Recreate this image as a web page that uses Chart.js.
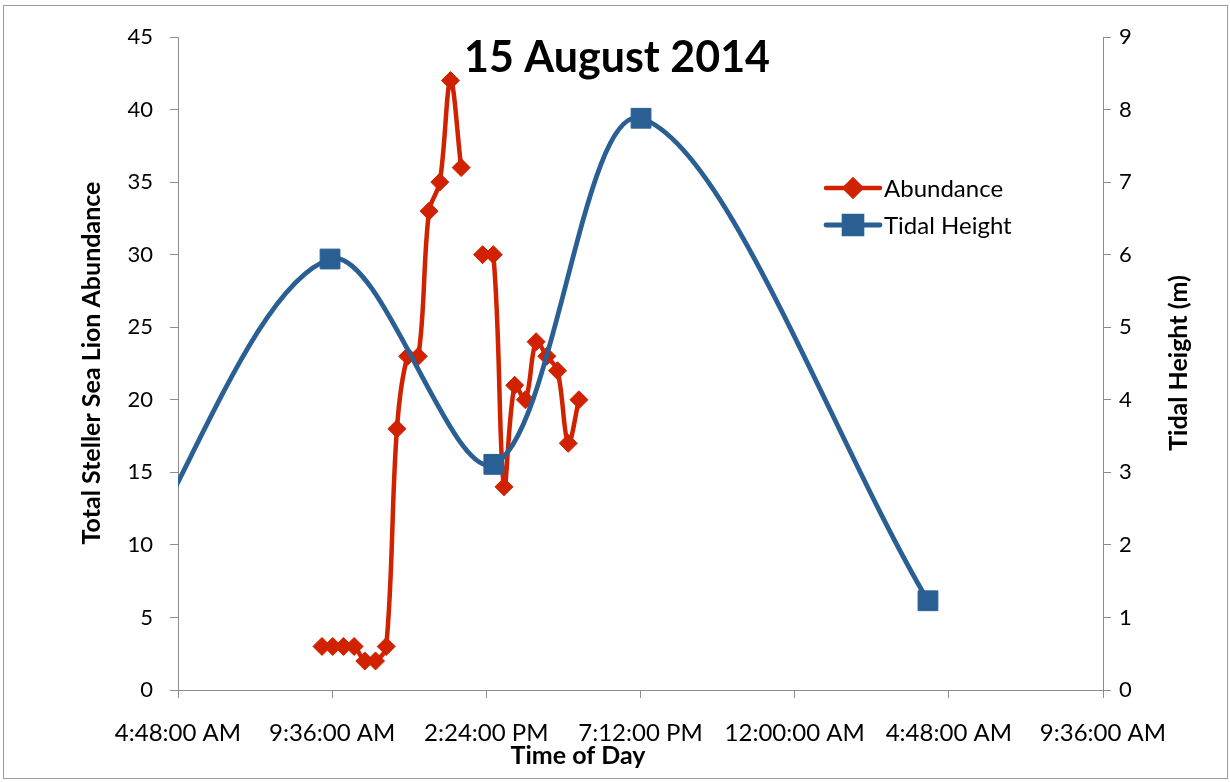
<!DOCTYPE html>
<html>
<head>
<meta charset="utf-8">
<script src="https://cdn.jsdelivr.net/npm/chart.js@4.4.0/dist/chart.umd.min.js"></script>
<style>
  html, body { margin: 0; padding: 0; background: #ffffff; }
  #wrap { width: 1230px; height: 782px; position: relative; }
</style>
</head>
<body>
<div id="wrap"><canvas id="c" width="1230" height="782"></canvas></div>
<script>
// Sea lion counts: survey times in minutes after midnight (15 Aug 2014);
// the 13:57 survey has no count, so the line breaks there
const countTimes = [557, 577, 597, 617, 637, 657, 677, 697, 717, 737, 757, 777, 797, 817,
                    837, 857, 877, 897, 917, 937, 957, 977, 997, 1017, 1037];
const counts     = [3, 3, 3, 3, 2, 2, 3, 18, 23, 23, 33, 35, 42, 36,
                    null, 30, 30, 14, 21, 20, 24, 23, 22, 17, 20];

// Tide turning points: minutes after midnight (values > 1440 fall on 16 Aug), height in metres
const tideTimes   = [180, 572, 878, 1153, 1689];
const tideHeights = [1.4, 5.94, 3.11, 7.88, 1.23];

// Axis ticks
const timeTicks      = [288, 576, 864, 1152, 1440, 1728, 2016];
const abundanceTicks = [0, 5, 10, 15, 20, 25, 30, 35, 40, 45];
const tideTicks      = [0, 1, 2, 3, 4, 5, 6, 7, 8, 9];

const RED  = '#D12200';
const BLUE = '#2A5F94';
const AXIS = '#8C8C8C';
const FONT = 'Lato, "Open Sans", "DejaVu Sans", sans-serif';

function clockLabel(min) {
  const m = ((min % 1440) + 1440) % 1440;
  const h = Math.floor(m / 60);
  const mm = m % 60;
  let h12 = h % 12;
  if (h12 === 0) h12 = 12;
  return h12 + ':' + String(mm).padStart(2, '0') + ':00 ' + (h < 12 ? 'AM' : 'PM');
}

const toXY = (xs, ys) => xs.map((x, i) => ({ x: x, y: ys[i] }));

// Frame, chart title, axis titles and the legend box
const decorations = {
  id: 'decorations',
  beforeDraw(chart) {
    const ctx = chart.ctx;
    ctx.save();
    ctx.fillStyle = '#ffffff';
    ctx.fillRect(0, 0, chart.width, chart.height);
    ctx.strokeStyle = '#9A9A9A';
    ctx.lineWidth = 1;
    ctx.strokeRect(3.5, 5.5, 1224, 773);
    ctx.restore();
  },
  afterDraw(chart) {
    const ctx = chart.ctx;
    ctx.save();
    ctx.fillStyle = '#000000';
    ctx.textAlign = 'center';
    ctx.textBaseline = 'middle';

    ctx.font = 'bold 43px ' + FONT;
    ctx.fillText('15 August 2014', 617, 58);

    ctx.font = 'bold 25px ' + FONT;
    ctx.fillText('Time of Day', 578, 756);

    ctx.save();
    ctx.translate(92, 363);
    ctx.rotate(-Math.PI / 2);
    ctx.fillText('Total Steller Sea Lion Abundance', 0, 0);
    ctx.restore();

    ctx.save();
    ctx.translate(1179, 363);
    ctx.rotate(-Math.PI / 2);
    ctx.fillText('Tidal Height (m)', 0, 0);
    ctx.restore();

    // legend
    const items = [
      { ds: chart.data.datasets[0], y: 188 },
      { ds: chart.data.datasets[1], y: 225 }
    ];
    items.forEach(it => {
      ctx.strokeStyle = it.ds.borderColor;
      ctx.lineWidth = it.ds.borderWidth;
      ctx.lineCap = 'round';
      ctx.beginPath();
      ctx.moveTo(826, it.y);
      ctx.lineTo(880, it.y);
      ctx.stroke();
      ctx.fillStyle = it.ds.pointBackgroundColor;
      ctx.strokeStyle = it.ds.pointBorderColor;
      Chart.helpers.drawPoint(ctx, {
        pointStyle: it.ds.pointStyle,
        radius: it.ds.pointRadius * 0.9,
        borderWidth: it.ds.pointBorderWidth,
        rotation: 0
      }, 853, it.y);
      ctx.fillStyle = '#000000';
      ctx.textAlign = 'left';
      ctx.font = '24px ' + FONT;
      ctx.fillText(it.ds.label, 884, it.y + 1);
    });
    ctx.restore();
  }
};

new Chart(document.getElementById('c'), {
  type: 'line',
  data: {
    datasets: [
      {
        label: 'Abundance',
        data: toXY(countTimes, counts),
        yAxisID: 'y',
        borderColor: RED,
        backgroundColor: RED,
        borderWidth: 4.5,
        pointStyle: 'rectRot',
        pointRadius: 9,
        pointBackgroundColor: RED,
        pointBorderColor: RED,
        pointBorderWidth: 1,
        tension: 0.35,
        spanGaps: false,
        order: 2
      },
      {
        label: 'Tidal Height',
        data: toXY(tideTimes, tideHeights),
        yAxisID: 'y1',
        borderColor: BLUE,
        backgroundColor: BLUE,
        borderWidth: 4.8,
        pointStyle: 'rect',
        pointRadius: 14,
        pointBackgroundColor: BLUE,
        pointBorderColor: BLUE,
        pointBorderWidth: 1,
        tension: 0.33,
        order: 1
      }
    ]
  },
  options: {
    responsive: false,
    animation: false,
    devicePixelRatio: 1,
    layout: { padding: { top: 37, left: 0, right: 0, bottom: 0 } },
    plugins: {
      legend: { display: false },
      tooltip: { enabled: false },
      title: { display: false }
    },
    scales: {
      x: {
        type: 'linear',
        min: 288,
        max: 2016,
        afterBuildTicks(scale) { scale.ticks = timeTicks.map(v => ({ value: v })); },
        afterFit(scale) { scale.height = 92; },
        grid: { drawOnChartArea: false, drawTicks: true, tickLength: 8, color: AXIS },
        border: { color: AXIS, width: 1 },
        ticks: {
          callback: v => clockLabel(v),
          font: { family: FONT, size: 24 },
          color: '#000000',
          padding: 21,
          maxRotation: 0,
          autoSkip: false
        }
      },
      y: {
        position: 'left',
        min: 0,
        max: 45,
        afterBuildTicks(scale) { scale.ticks = abundanceTicks.map(v => ({ value: v })); },
        afterFit(scale) { scale.width = 178; },
        grid: { drawOnChartArea: false, drawTicks: true, tickLength: 8, color: AXIS },
        border: { color: AXIS, width: 1 },
        ticks: {
          font: { family: FONT, size: 22 },
          color: '#000000',
          padding: 17
        }
      },
      y1: {
        position: 'right',
        min: 0,
        max: 9,
        afterBuildTicks(scale) { scale.ticks = tideTicks.map(v => ({ value: v })); },
        afterFit(scale) { scale.width = 127; },
        grid: { drawOnChartArea: false, drawTicks: true, tickLength: 8, color: AXIS },
        border: { color: AXIS, width: 1 },
        ticks: {
          font: { family: FONT, size: 22 },
          color: '#000000',
          padding: 8
        }
      }
    }
  },
  plugins: [decorations]
});
</script>
</body>
</html>
